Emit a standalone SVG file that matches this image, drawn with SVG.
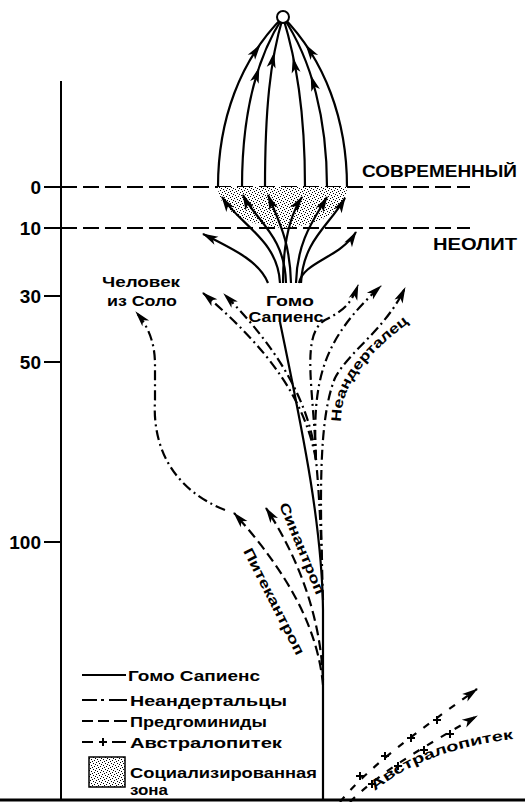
<svg xmlns="http://www.w3.org/2000/svg" width="525" height="802" viewBox="0 0 525 802">
<defs>
<pattern id="dots" width="6" height="6" patternUnits="userSpaceOnUse">
<rect width="6" height="6" fill="#fff"/>
<rect x="0" y="0" width="1" height="1" fill="#000"/>
<rect x="3" y="1" width="1" height="1" fill="#000"/>
<rect x="1" y="3" width="1" height="1" fill="#000"/>
<rect x="4" y="4" width="1" height="1" fill="#000"/>
<rect x="5" y="2" width="1" height="1" fill="#000"/>
<rect x="2" y="5" width="1" height="1" fill="#000"/>
</pattern>
<marker id="arr" markerUnits="userSpaceOnUse" viewBox="-16 -6 17 12" refX="0" refY="0" markerWidth="17" markerHeight="12" orient="auto">
<path d="M1,0 L-15,-4.5 L-11,0 L-15,4.5 Z" fill="#000"/>
</marker>
<path id="ah" d="M1,0 L-15,-4.5 L-11,0 L-15,4.5 Z"/>
<path id="tpPit" d="M 243 551 L 297 657"/>
<path id="tpSin" d="M 279 505 L 317 597"/>
<path id="tpNea" d="M 341 422 C 341 385, 365 355, 415 318"/>
<path id="tpAus" d="M 375 791 Q 425 748, 523 738"/>
</defs>
<style>
.ln{fill:none;stroke:#000;stroke-width:2.2}
.dd{stroke-dasharray:10 4 2 4}
.da{stroke-dasharray:10 5}
.au{stroke-dasharray:7 9}
.t{font-family:"Liberation Sans",Arial,sans-serif;font-weight:bold;fill:#000}
.ax{font-size:19px}
.lg{font-size:15px}
.lb{font-size:14px}
</style>
<rect width="525" height="802" fill="#fff"/>

<g id="axis">
<line x1="61" y1="81" x2="61" y2="800" stroke="#000" stroke-width="2"/>
<g stroke="#000" stroke-width="2">
<line x1="44" y1="187" x2="61" y2="187"/>
<line x1="44" y1="228" x2="61" y2="228"/>
<line x1="44" y1="296" x2="61" y2="296"/>
<line x1="44" y1="362" x2="61" y2="362"/>
<line x1="44" y1="542" x2="61" y2="542"/>
</g>
<g class="t ax" text-anchor="end">
<text x="41" y="194">0</text>
<text x="41" y="235">10</text>
<text x="41" y="303">30</text>
<text x="41" y="369">50</text>
<text x="41" y="549">100</text>
</g>
<line x1="0" y1="800" x2="525" y2="800" stroke="#000" stroke-width="3"/>
<line x1="61" y1="187" x2="470" y2="187" stroke="#000" stroke-width="2" stroke-dasharray="16 6"/>
<line x1="61" y1="228" x2="470" y2="228" stroke="#000" stroke-width="2" stroke-dasharray="16 6"/>
</g>

<g id="era-labels" class="t">
<text x="362" y="177" font-size="16" textLength="155" lengthAdjust="spacingAndGlyphs">СОВРЕМЕННЫЙ</text>
<text x="433" y="250" font-size="16" textLength="84" lengthAdjust="spacingAndGlyphs">НЕОЛИТ</text>
</g>

<g id="social-zone">
<path d="M 218 187 L 347 187 C 347 210, 320 226, 283 228 C 246 226, 218 210, 218 187 Z" fill="url(#dots)"/>
</g>

<g id="connectors">
<path class="ln" d="M 283 17 C 240 60, 218 120, 218 187"/>
<path class="ln" d="M 283 17 C 255 60, 242 120, 242 187"/>
<path class="ln" d="M 283 17 C 270 60, 265 110, 265 187"/>
<path class="ln" d="M 283 17 C 296 60, 305 110, 305 187"/>
<path class="ln" d="M 283 17 C 312 60, 327 120, 327 187"/>
<path class="ln" d="M 283 17 C 325 60, 347 120, 347 187"/>
<use href="#ah" transform="translate(260,45) rotate(-55)"/>
<use href="#ah" transform="translate(259,68) rotate(-72)"/>
<use href="#ah" transform="translate(274,53) rotate(-79)"/>
<use href="#ah" transform="translate(293,58) rotate(-102)"/>
<use href="#ah" transform="translate(311,76) rotate(-108)"/>
<use href="#ah" transform="translate(306,45) rotate(-124)"/>
<path class="ln" marker-end="url(#arr)" d="M 280 283 C 278 240, 240 225, 222 197"/>
<path class="ln" marker-end="url(#arr)" d="M 286 283 C 285 235, 255 220, 243 195"/>
<path class="ln" marker-end="url(#arr)" d="M 291 283 C 290 240, 278 220, 268 195"/>
<path class="ln" marker-end="url(#arr)" d="M 283 283 C 283 240, 290 215, 302 197"/>
<path class="ln" marker-end="url(#arr)" d="M 296 283 C 297 240, 315 218, 327 197"/>
<path class="ln" marker-end="url(#arr)" d="M 301 283 C 303 240, 330 225, 345 198"/>
<path class="ln" marker-end="url(#arr)" d="M 268 283 C 260 262, 235 250, 203 234"/>
<path class="ln" marker-end="url(#arr)" d="M 299 283 C 303 262, 340 258, 356 232"/>
<path class="ln" d="M 323 800 L 323 610 C 322 520, 300 420, 280 322"/>
<path class="ln dd" d="M 322 560 C 320 510, 318 480, 316 460"/>
<path class="ln dd" marker-end="url(#arr)" d="M 316 460 C 305 400, 270 350, 203 293"/>
<path class="ln dd" marker-end="url(#arr)" d="M 316 460 C 310 400, 275 345, 224 294"/>
<path class="ln dd" marker-end="url(#arr)" d="M 316 460 C 314 390, 300 335, 325 320 C 345 310, 352 302, 358 285"/>
<path class="ln dd" marker-end="url(#arr)" d="M 316 460 C 312 380, 322 340, 381 286"/>
<path class="ln dd" marker-end="url(#arr)" d="M 323 600 C 320 500, 318 420, 335 378 C 350 350, 385 330, 405 288"/>
<path class="ln dd" marker-end="url(#arr)" d="M 225 510 C 175 490, 152 450, 155 400 L 155 365 C 155 342, 148 326, 136 312"/>
<path class="ln da" marker-end="url(#arr)" d="M 323 685 C 318 630, 290 575, 234 513"/>
<path class="ln da" marker-end="url(#arr)" d="M 323 680 C 321 620, 300 560, 266 508"/>
<path class="ln au" marker-end="url(#arr)" d="M 340 802 C 370 765, 420 730, 477 689"/>
<path class="ln au" marker-end="url(#arr)" d="M 350 802 C 380 772, 422 748, 477 716"/>
<g stroke="#000" stroke-width="2">
<path d="M 356 776 l 8 0 M 360 772 l 0 8"/>
<path d="M 381 756 l 8 0 M 385 752 l 0 8"/>
<path d="M 407 738 l 8 0 M 411 734 l 0 8"/>
<path d="M 433 720 l 8 0 M 437 716 l 0 8"/>
<path d="M 368 784 l 8 0 M 372 780 l 0 8"/>
<path d="M 394 766 l 8 0 M 398 762 l 0 8"/>
<path d="M 420 750 l 8 0 M 424 746 l 0 8"/>
<path d="M 446 734 l 8 0 M 450 730 l 0 8"/>
</g>
</g>

<g id="apex">
<circle cx="283" cy="17" r="6" fill="#fff" stroke="#000" stroke-width="2"/>
</g>

<g id="homo-sapiens" class="t lb" text-anchor="middle">
<text x="290" y="306" textLength="48" lengthAdjust="spacingAndGlyphs">Гомо</text>
<text x="286" y="322" textLength="75" lengthAdjust="spacingAndGlyphs">Сапиенс</text>
</g>

<g id="solo" class="t lb">
<text x="102" y="287" textLength="78" lengthAdjust="spacingAndGlyphs">Человек</text>
<text x="107" y="306" textLength="70" lengthAdjust="spacingAndGlyphs">из Соло</text>
</g>

<g id="pithecanthropus" class="t lb">
<text><textPath href="#tpPit" textLength="118" lengthAdjust="spacingAndGlyphs">Питекантроп</textPath></text>
</g>
<g id="sinanthropus" class="t lb">
<text><textPath href="#tpSin" textLength="98" lengthAdjust="spacingAndGlyphs">Синантроп</textPath></text>
</g>
<g id="neanderthal" class="t lb">
<text><textPath href="#tpNea" textLength="125" lengthAdjust="spacingAndGlyphs">Неандерталец</textPath></text>
</g>
<g id="australopithecus" class="t lb">
<text><textPath href="#tpAus" textLength="150" lengthAdjust="spacingAndGlyphs">Австралопитек</textPath></text>
</g>

<g id="legend">
<line x1="82" y1="675" x2="126" y2="675" stroke="#000" stroke-width="2"/>
<g stroke="#000" stroke-width="2">
<path d="M 82 700 h 15 M 101 700 h 3 M 109 700 h 18"/>
<path d="M 82 721 h 11 M 98 721 h 11 M 114 721 h 13"/>
<path d="M 82 742 h 11 M 112 742 h 14 M 99 742 h 8 M 103 738 v 8"/>
</g>
<rect x="89" y="757" width="36" height="30" fill="url(#dots)" stroke="#000" stroke-width="1.5"/>
<g class="t lg">
<text x="128" y="681" textLength="132" lengthAdjust="spacingAndGlyphs">Гомо Сапиенс</text>
<text x="130" y="706" textLength="157" lengthAdjust="spacingAndGlyphs">Неандертальцы</text>
<text x="130" y="727" textLength="137" lengthAdjust="spacingAndGlyphs">Предгоминиды</text>
<text x="130" y="748" textLength="152" lengthAdjust="spacingAndGlyphs">Австралопитек</text>
<text x="130" y="778" textLength="187" lengthAdjust="spacingAndGlyphs">Социализированная</text>
<text x="130" y="795" textLength="38" lengthAdjust="spacingAndGlyphs">зона</text>
</g>
</g>
</svg>
